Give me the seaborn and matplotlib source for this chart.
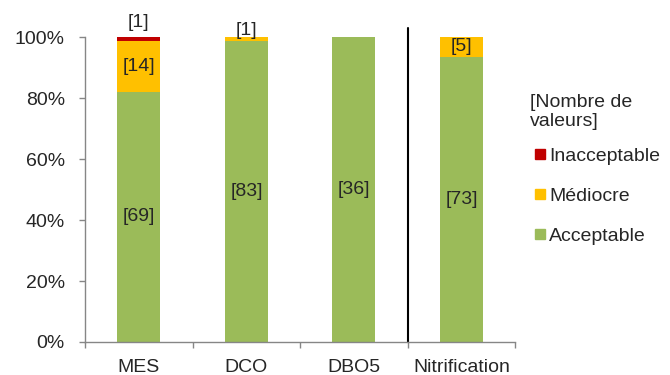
import numpy as np
import pandas as pd
import matplotlib
matplotlib.use("Agg")
import matplotlib.pyplot as plt
import seaborn as sns
from matplotlib.lines import Line2D

categories = ["MES", "DCO", "DBO5", "Nitrification"]
acceptable = [69, 83, 36, 73]
mediocre = [14, 1, 0, 5]
inacceptable = [1, 0, 0, 0]
yticks = [0, 20, 40, 60, 80, 100]

col_acc = "#9BBB59"
col_med = "#FFC000"
col_inacc = "#C00000"

sns.set_style("white")
plt.rcParams["font.family"] = ["Liberation Sans", "DejaVu Sans"]

acc = np.array(acceptable, float)
med = np.array(mediocre, float)
ina = np.array(inacceptable, float)
tot = acc + med + ina
p_acc = acc / tot * 100
p_med = med / tot * 100
p_ina = ina / tot * 100

df = pd.DataFrame({
    "cat": categories,
    "l3": p_acc + p_med + p_ina,
    "l2": p_acc + p_med,
    "l1": p_acc,
})

fig = plt.figure(figsize=(6.7, 3.75), dpi=100)
ax = fig.add_axes([0.127, 0.088, 0.642, 0.813])

# stacked bars drawn as overlapping cumulative layers
sns.barplot(data=df, x="cat", y="l3", color=col_inacc, width=0.4, ax=ax,
            saturation=1, linewidth=0)
sns.barplot(data=df, x="cat", y="l2", color=col_med, width=0.4, ax=ax,
            saturation=1, linewidth=0)
sns.barplot(data=df, x="cat", y="l1", color=col_acc, width=0.4, ax=ax,
            saturation=1, linewidth=0)

fs = 14
ax.set_ylim(0, 100)
ax.set_xlim(-0.5, len(categories) - 0.5)
ax.set_yticks(yticks)
ax.set_yticklabels([f"{v}%" for v in yticks], fontsize=fs)
ax.set_xticks(range(len(categories)))
ax.set_xticklabels(categories, fontsize=fs)
ax.set_xlabel("")
ax.set_ylabel("")

for s in ["top", "right"]:
    ax.spines[s].set_visible(False)
for s in ["left", "bottom"]:
    ax.spines[s].set_color("#868686")
    ax.spines[s].set_linewidth(1)

ax.tick_params(axis="y", which="major", left=True, length=4.5, color="#868686",
               width=1, pad=10)
ax.tick_params(axis="x", which="major", bottom=False, pad=9)
# category boundary ticks on the x axis
ax.set_xticks(np.arange(-0.5, len(categories)), minor=True)
ax.tick_params(axis="x", which="minor", bottom=True, length=4.5,
               color="#868686", width=1)

# separator between the quality parameters and nitrification
ax.plot([2.5, 2.5], [0, 103], color="black", lw=1.5, clip_on=False)

for i in range(len(categories)):
    ax.text(i, p_acc[i] / 2, f"[{acceptable[i]}]", ha="center", va="center",
            fontsize=fs)
    if mediocre[i] > 0:
        if p_med[i] > 4:
            ax.text(i, p_acc[i] + p_med[i] / 2, f"[{mediocre[i]}]",
                    ha="center", va="center", fontsize=fs)
        else:
            ax.text(i, p_acc[i] + p_med[i] - 0.5, f"[{mediocre[i]}]",
                    ha="center", va="bottom", fontsize=fs)
    if inacceptable[i] > 0:
        ax.text(i, 102, f"[{inacceptable[i]}]",
                ha="center", va="bottom", fontsize=fs)

handles = [
    Line2D([], [], marker="s", ls="", color=col_inacc, markersize=7),
    Line2D([], [], marker="s", ls="", color=col_med, markersize=7),
    Line2D([], [], marker="s", ls="", color=col_acc, markersize=7),
]
leg = fig.legend(handles, ["Inacceptable", "Médiocre", "Acceptable"],
                 title="[Nombre de\nvaleurs]", loc="upper left",
                 bbox_to_anchor=(0.791, 0.75), frameon=False, fontsize=fs,
                 title_fontsize=fs, handletextpad=0.0, labelspacing=1.15,
                 handlelength=1.0, borderaxespad=0, borderpad=0)
leg._legend_box.align = "left"
leg._legend_box.sep = 12

fig.savefig("out.png", dpi=100)
